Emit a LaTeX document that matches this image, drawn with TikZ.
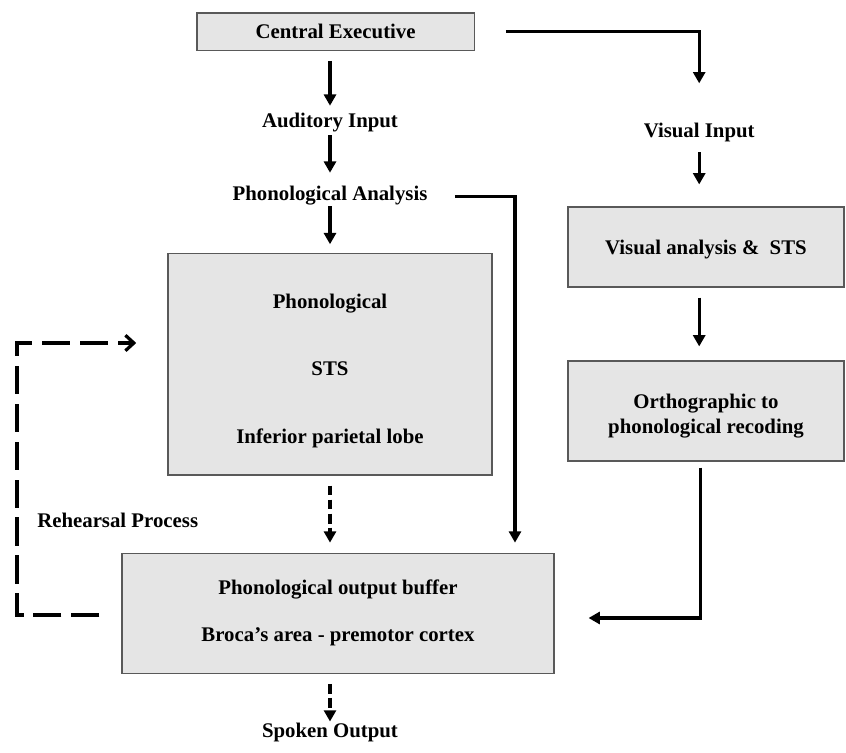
\documentclass[tikz,border=0pt]{standalone}
\usepackage{fontspec}
\setmainfont{Liberation Serif}
\usetikzlibrary{arrows.meta}

\begin{document}
\begin{tikzpicture}[yscale=-1,>={Triangle[width=8.5pt,length=8pt]}]
	\tikzstyle{txt} = [font=\bfseries\fontsize{14.8}{17.8}\selectfont]
	\tikzstyle{boxes} = [txt, draw=black!65, line width=0.8pt, fill=black!10, align=center, inner sep=0pt]
	\tikzstyle{lbl} = [txt, inner sep=0pt, text height=0.36cm, text depth=0.13cm]
	\tikzstyle{flow} = [->, line width=2.3pt]
	\tikzstyle{sdash} = [flow, dash pattern=on 7pt off 3pt]
	\tikzstyle{ldash} = [line width=2.3pt, dash pattern=on 20pt off 7pt, -{Straight Barb[length=6pt,width=11pt]}]

	\useasboundingbox (0,0) rectangle (21.15,18.825);

	\node[boxes, minimum width=6.93cm, minimum height=0.93cm] (CE) at (8.39,0.79) {Central Executive};
	\node[lbl, anchor=base] (AudIn) at (8.25,3.2) {Auditory Input};
	\node[lbl, anchor=base] (PhonAn) at (8.25,5.025) {Phonological Analysis};
	\node[boxes, minimum width=8.1cm, minimum height=5.53cm] (Phono) at (8.25,9.11) {\rule{0pt}{0.69cm}Phonological\\[1.05cm]STS\\[1.05cm]Inferior parietal lobe};
	\node[boxes, minimum width=10.8cm, minimum height=3cm] (Buffer) at (8.45,15.33) {Phonological output buffer\\[0.55cm]Broca's area - premotor cortex};
	\node[lbl, anchor=base] (Spoken) at (8.25,18.425) {Spoken Output};
	\node[lbl, anchor=base west] (Rehearse) at (0.925,13.175) {Rehearsal Process};

	\node[lbl, anchor=base] (VisIn) at (17.48,3.45) {Visual Input};
	\node[boxes, minimum width=6.9cm, minimum height=2cm] (VisBox) at (17.65,6.175) {\rule{0pt}{0.51cm}Visual analysis \&\ \ STS};
	\node[boxes, minimum width=6.9cm, minimum height=2.5cm] (OrthoBox) at (17.65,10.275) {\rule{0pt}{0.61cm}Orthographic to\\phonological recoding};

	% auditory route
	\draw[flow, shorten <=0.25cm, shorten >=0.19cm] (CE.south -| AudIn) -- (AudIn);
	\draw[flow, shorten <=0.05cm, shorten >=0.34cm] (AudIn) -- (PhonAn);
	\draw[flow, shorten >=0.225cm] (PhonAn) -- (PhonAn |- Phono.north);
	\draw[sdash, shorten <=0.25cm, shorten >=0.25cm] (Phono.south) -- (Phono.south |- Buffer.north);
	\draw[sdash, shorten <=0.25cm, shorten >=0.02cm] (Buffer.south -| Spoken) -- (Spoken);
	\coordinate (AnBend) at (12.875,0);
	\draw[flow, shorten <=0.68cm, shorten >=0.25cm] (PhonAn.east) -| (AnBend |- Buffer.north);

	% visual route
	\draw[flow, shorten <=0.78cm, shorten >=1.0cm] (CE.east) -| (VisIn);
	\draw[flow, shorten <=0.22cm, shorten >=0.55cm] (VisIn) -- (VisIn |- VisBox.north);
	\draw[flow, shorten <=0.25cm, shorten >=0.35cm] (VisBox.south -| VisIn) -- (OrthoBox.north -| VisIn);
	\coordinate (OrBend) at (17.52,15.45);
	\draw[flow, shorten <=0.15cm, shorten >=0.85cm] (OrthoBox.south -| OrBend) -- (OrBend) -- (OrBend -| Buffer.east);

	% rehearsal loop
	\coordinate (RTop) at (0.425,8.575);
	\coordinate (RBot) at (0.425,15.375);
	\draw[ldash, shorten <=0.55cm, shorten >=0.78cm] (Buffer.west |- RBot) -- (RBot) -- (RTop) -- (RTop -| Phono.west);
\end{tikzpicture}
\end{document}
